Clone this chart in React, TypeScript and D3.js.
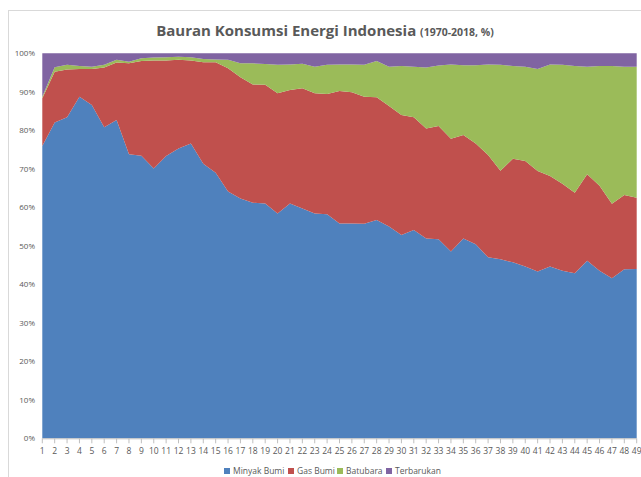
import React from "react";
import * as d3 from "d3";

const categories: number[] = Array.from({ length: 49 }, (_, i) => i + 1);

const minyakBumi = [75.9, 82.0, 83.4, 88.7, 86.6, 80.8, 82.7, 73.8, 73.4, 70.1, 73.3, 75.3, 76.6, 71.3, 69.0, 64.1, 62.3, 61.2, 61.0, 58.4, 61.0, 59.7, 58.4, 58.2, 55.8, 55.8, 55.7, 56.7, 55.0, 52.8, 54.1, 51.9, 51.7, 48.5, 51.9, 50.4, 47.0, 46.5, 45.7, 44.6, 43.3, 44.6, 43.5, 42.9, 46.1, 43.5, 41.6, 43.9, 44.0];
const gasBumi = [12.4, 13.2, 12.4, 7.2, 9.3, 15.5, 14.9, 23.6, 24.6, 28.0, 24.8, 23.0, 21.5, 26.4, 28.7, 32.0, 31.5, 30.7, 30.8, 31.2, 29.5, 31.2, 31.2, 31.2, 34.4, 34.1, 33.0, 31.9, 31.3, 31.2, 29.3, 28.6, 29.4, 29.3, 26.9, 26.2, 26.6, 23.0, 26.9, 27.4, 26.1, 23.5, 22.6, 20.9, 22.5, 22.1, 19.3, 19.3, 18.5];
const batubara = [0.4, 1.2, 1.2, 0.8, 0.6, 0.7, 0.7, 0.4, 0.7, 0.8, 0.9, 0.8, 0.9, 0.8, 0.7, 2.2, 3.6, 5.5, 5.4, 7.4, 6.6, 6.4, 6.9, 7.6, 6.9, 7.2, 8.3, 9.4, 10.2, 12.7, 13.1, 15.8, 15.7, 19.3, 18.1, 20.3, 23.5, 27.5, 24.1, 24.5, 26.5, 29.0, 30.9, 32.9, 27.9, 31.1, 35.8, 33.3, 34.0];
const terbarukan = [11.3, 3.6, 3.0, 3.3, 3.5, 3.0, 1.7, 2.2, 1.3, 1.1, 1.0, 0.9, 1.0, 1.5, 1.6, 1.7, 2.6, 2.6, 2.8, 3.0, 2.9, 2.7, 3.5, 3.0, 2.9, 2.9, 3.0, 2.0, 3.5, 3.3, 3.5, 3.7, 3.2, 2.9, 3.1, 3.1, 2.9, 3.0, 3.3, 3.5, 4.1, 2.9, 3.0, 3.3, 3.5, 3.3, 3.3, 3.5, 3.5];

const seriesNames = ["Minyak Bumi", "Gas Bumi", "Batubara", "Terbarukan"];
const seriesColors = ["#4F81BD", "#C0504D", "#9BBB59", "#8064A2"];
const yTicks = [0, 0.1, 0.2, 0.3, 0.4, 0.5, 0.6, 0.7, 0.8, 0.9, 1.0];

const W = 641;
const H = 477;
const plot = { left: 42.3, right: 636.7, top: 53.3, bottom: 438.3 };

export default function App() {
  const seriesArrays = [minyakBumi, gasBumi, batubara, terbarukan];
  const rows = categories.map((c, i) => {
    const total = seriesArrays.reduce((s, a) => s + a[i], 0);
    const r: any = { cat: c };
    seriesNames.forEach((n, k) => (r[n] = seriesArrays[k][i] / total));
    return r;
  });
  const stacked = d3.stack<any>().keys(seriesNames)(rows);

  const x = d3.scaleLinear().domain([1, 49]).range([plot.left, plot.right]);
  const y = d3.scaleLinear().domain([0, 1]).range([plot.bottom, plot.top]);
  const area = d3
    .area<any>()
    .x((d) => x(d.data.cat))
    .y0((d) => y(d[0]))
    .y1((d) => y(d[1]));
  const fmt = d3.format(".0%");

  const font = "'Open Sans', 'Noto Sans', sans-serif";
  const legendX = [227, 291, 340, 389];

  return (
    <svg
      width={W}
      height={H}
      style={{ position: "absolute", left: 0, top: 0, background: "#fff" }}
    >
      <rect x={8.5} y={10.5} width={W} height={H} fill="#fff" stroke="#d9d9d9" />
      <text x={325} y={36} textAnchor="middle" fontFamily={font} fill="#595959" fontWeight="bold">
        <tspan fontSize={15}>Bauran Konsumsi Energi Indonesia </tspan>
        <tspan fontSize={10.5}>(1970-2018, %)</tspan>
      </text>
      {stacked.map((s, k) => (
        <path key={s.key} d={area(s as any) || ""} fill={seriesColors[k]} />
      ))}
      <line x1={plot.left} x2={plot.right} y1={plot.bottom + 0.5} y2={plot.bottom + 0.5} stroke="#bfbfbf" />
      {categories.map((c) => (
        <g key={c}>
          <line x1={x(c)} x2={x(c)} y1={plot.bottom} y2={plot.bottom + 5} stroke="#bfbfbf" />
          <text x={x(c)} y={plot.bottom + 16} textAnchor="middle" fontFamily={font} fontSize={8.5} fill="#595959">
            {c}
          </text>
        </g>
      ))}
      {yTicks.map((t) => (
        <text key={t} x={35} y={y(t) + 3} textAnchor="end" fontFamily={font} fontSize={8} fill="#595959">
          {fmt(t)}
        </text>
      ))}
      {seriesNames.map((n, k) => (
        <g key={n}>
          <rect x={legendX[k] - 3} y={468} width={6} height={6} fill={seriesColors[k]} />
          <text x={legendX[k] + 6} y={474} fontFamily={font} fontSize={8.5} fill="#595959">
            {n}
          </text>
        </g>
      ))}
    </svg>
  );
}
